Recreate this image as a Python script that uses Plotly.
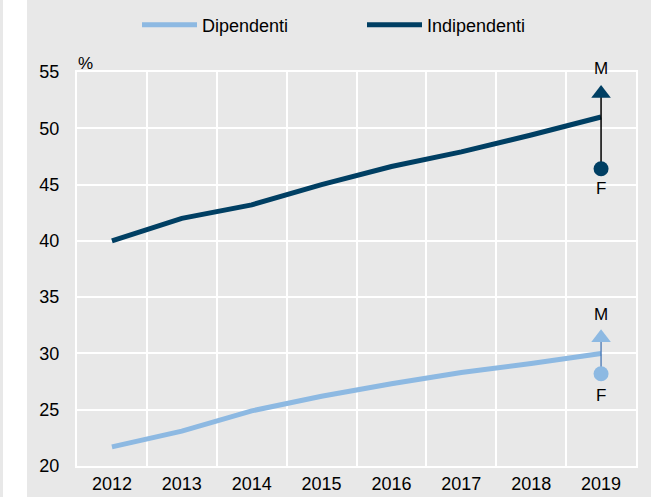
import plotly.graph_objects as go

years = [2012, 2013, 2014, 2015, 2016, 2017, 2018, 2019]
dipendenti = [21.7, 23.1, 24.9, 26.2, 27.3, 28.3, 29.1, 30.0]
indipendenti = [40.0, 42.0, 43.2, 45.0, 46.6, 47.9, 49.4, 51.0]

gender_year = 2019
dip_m, dip_f = 31.4, 28.2
ind_m, ind_f = 53.1, 46.4

series_names = ["Dipendenti", "Indipendenti"]
y_ticks = [20, 25, 30, 35, 40, 45, 50, 55]

LIGHT = "#8DB9E2"
DARK = "#003F63"
BG = "#E8E8E8"
FONT = "Liberation Sans, Arial, sans-serif"

fig = go.Figure()
fig.add_trace(go.Scatter(x=years, y=dipendenti, mode="lines", name=series_names[0],
                         line=dict(color=LIGHT, width=5)))
fig.add_trace(go.Scatter(x=years, y=indipendenti, mode="lines", name=series_names[1],
                         line=dict(color=DARK, width=5)))

# connectors F -> M
fig.add_trace(go.Scatter(x=[gender_year, gender_year], y=[dip_f, dip_m], mode="lines",
                         line=dict(color="#3A6DB0", width=1.2), showlegend=False, hoverinfo="skip"))
fig.add_trace(go.Scatter(x=[gender_year, gender_year], y=[ind_f, ind_m], mode="lines",
                         line=dict(color="black", width=1.5), showlegend=False, hoverinfo="skip"))

for col, m, f, m_shift, f_shift in [(LIGHT, dip_m, dip_f, 23.5, -21.5),
                                    (DARK, ind_m, ind_f, 24.5, -20)]:
    fig.add_trace(go.Scatter(x=[gender_year], y=[m], mode="markers", cliponaxis=False,
                             marker=dict(symbol="triangle-up", size=17, color=col),
                             showlegend=False))
    fig.add_trace(go.Scatter(x=[gender_year], y=[f], mode="markers", cliponaxis=False,
                             marker=dict(symbol="circle", size=15, color=col),
                             showlegend=False))
    fig.add_annotation(x=gender_year, y=m, text="M", showarrow=False, yshift=m_shift,
                       font=dict(size=17, color="black"))
    fig.add_annotation(x=gender_year, y=f, text="F", showarrow=False, yshift=f_shift,
                       font=dict(size=17, color="black"))

fig.add_annotation(text="%", xref="paper", yref="paper", x=-0.002, y=1.052,
                   showarrow=False, font=dict(size=17, color="black"))

# white strip at left edge
fig.add_shape(type="rect", xref="paper", yref="paper", x0=-0.1324, x1=-0.0894,
              y0=-0.5, y1=2.0, fillcolor="white", line=dict(width=0), layer="below")

fig.update_layout(
    width=651, height=497,
    margin=dict(l=77, r=15, t=72, b=31),
    paper_bgcolor=BG, plot_bgcolor=BG,
    font=dict(family=FONT, size=18, color="black"),
    legend=dict(orientation="h", xref="container", yref="container",
                x=137 / 651, xanchor="left", y=1 - 25 / 497, yanchor="middle",
                itemwidth=55, font=dict(size=18), entrywidth=155,
                bgcolor="rgba(0,0,0,0)"),
    xaxis=dict(range=[2011.5, 2019.5], tickvals=years, ticktext=[str(y) for y in years],
               showgrid=False, zeroline=False, showline=True, mirror=True,
               linecolor="white", linewidth=2, automargin=False,
               minor=dict(tickvals=[y + 0.5 for y in [2011] + years], showgrid=True,
                          gridcolor="white", gridwidth=2)),
    yaxis=dict(range=[20, 55], tickvals=y_ticks, showgrid=True, gridcolor="white", gridwidth=2,
               zeroline=False, showline=True, mirror=True, linecolor="white", linewidth=2,
               ticklabelstandoff=12, automargin=False),
)

fig.write_html("out.html", config={"displayModeBar": False},
               post_script="document.body.style.margin='0';")
